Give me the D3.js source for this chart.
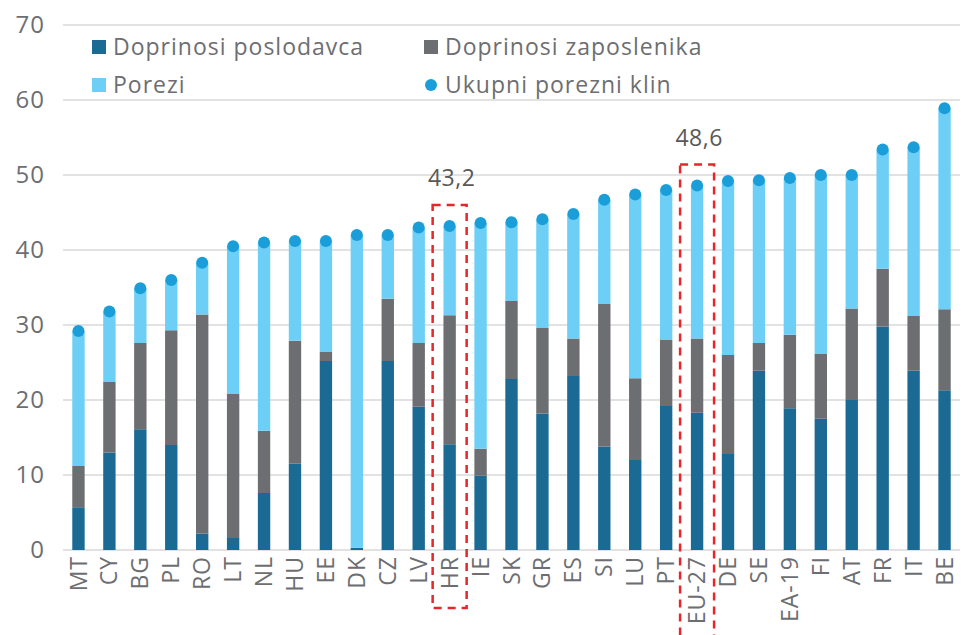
<!DOCTYPE html>
<html>
<head>
<meta charset="utf-8">
<script src="https://cdn.jsdelivr.net/npm/d3@7"></script>
<style>
	body { margin: 0; background: #fff; }
	svg { display: block; font-family: "Open Sans", sans-serif; }
</style>
</head>
<body>
<svg id="chart" width="961" height="635"></svg>
<script>
var countries = ["MT", "CY", "BG", "PL", "RO", "LT", "NL", "HU", "EE", "DK",
				"CZ", "LV", "HR", "IE", "SK", "GR", "ES", "SI", "LU", "PT",
				"EU-27", "DE", "SE", "EA-19", "FI", "AT", "FR", "IT", "BE"];
var employer = [5.7, 13.0, 16.1, 14.0, 2.2, 1.6, 7.6, 11.5, 25.2, 0.3,
				25.2, 19.1, 14.1, 9.9, 22.8, 18.2, 23.2, 13.8, 12.0, 19.2,
				18.3, 12.8, 23.9, 18.9, 17.5, 20.0, 29.8, 23.9, 21.3];
var employee = [5.5, 9.4, 11.5, 15.3, 29.2, 19.2, 8.3, 16.4, 1.2, 0.0,
				8.3, 8.5, 17.2, 3.6, 10.4, 11.4, 5.0, 19.0, 10.9, 8.8,
				9.9, 13.2, 3.7, 9.8, 8.7, 12.2, 7.7, 7.3, 10.8];
var taxes = [18.0, 9.4, 7.3, 6.7, 6.9, 19.7, 25.1, 13.3, 14.8, 41.7,
				8.5, 15.4, 11.9, 30.1, 10.5, 14.5, 16.6, 13.9, 24.5, 20.0,
				20.4, 23.2, 21.7, 20.9, 23.8, 17.8, 15.9, 22.5, 26.8];
var totalWedge = [29.2, 31.8, 34.9, 36.0, 38.3, 40.5, 41.0, 41.2, 41.2, 42.0,
				42.0, 43.0, 43.2, 43.6, 43.7, 44.1, 44.8, 46.7, 47.4, 48.0,
				48.6, 49.2, 49.3, 49.6, 50.0, 50.0, 53.4, 53.7, 58.9];
var yTicks = [0, 10, 20, 30, 40, 50, 60, 70];
var highlightCountries = ["HR", "EU-27"];
var highlightLabels = ["43,2", "48,6"];
var seriesKeys = ["employer", "employee", "taxes"];
var seriesNames = ["Doprinosi poslodavca", "Doprinosi zaposlenika", "Porezi", "Ukupni porezni klin"];

var colors = {employer: "#1a6a93", employee: "#6d6e71", taxes: "#6dcff6", total: "#1a9ed9"};
var textColor = "#6d6e71";

var svg = d3.select("#chart");
var padLeft = 63, padRight = 960, padTop = 25, padBottom = 550;
// how far below the axis each dashed box reaches
var boxDrop = [58, 110];

var data = countries.map(function(c, i) {
	return {country: c, employer: employer[i], employee: employee[i], taxes: taxes[i], total: totalWedge[i]};
});

var xScale = d3.scaleBand()
	.domain(countries)
	.range([padLeft, padRight])
	.paddingInner(0.6)
	.paddingOuter(0.3);

var yScale = d3.scaleLinear()
	.domain([0, 70])
	.range([padBottom, padTop]);

// gridlines
svg.append("g")
	.selectAll("line")
	.data(yTicks)
	.enter().append("line")
		.attr("x1", padLeft)
		.attr("x2", padRight)
		.attr("y1", function(d) { return yScale(d); })
		.attr("y2", function(d) { return yScale(d); })
		.attr("stroke", "#d9d9d9")
		.attr("stroke-width", 1.6);

// y axis labels
var yAxis = d3.axisLeft(yScale).tickValues(yTicks).tickSize(0).tickPadding(18);
svg.append("g")
	.attr("transform", "translate(" + padLeft + ",0)")
	.call(yAxis)
	.call(function(g) { g.select(".domain").remove(); })
	.selectAll("text")
		.attr("fill", textColor)
		.attr("font-size", 24)
		.attr("letter-spacing", 1)
		.attr("font-family", "Open Sans, sans-serif");

// stacked bars
var stack = d3.stack().keys(seriesKeys);
var series = stack(data);

var serie = svg.append("g").selectAll(".serie")
	.data(series)
	.enter().append("g")
		.attr("class", "serie")
		.attr("fill", function(d) { return colors[d.key]; });

serie.selectAll("rect")
	.data(function(d) { return d; })
	.enter().append("rect")
		.attr("x", function(d) { return xScale(d.data.country); })
		.attr("y", function(d) { return yScale(d[1]); })
		.attr("height", function(d) { return yScale(d[0]) - yScale(d[1]); })
		.attr("width", xScale.bandwidth());

// total dots
svg.append("g").selectAll("circle")
	.data(data)
	.enter().append("circle")
		.attr("cx", function(d) { return xScale(d.country) + xScale.bandwidth() / 2; })
		.attr("cy", function(d) { return yScale(d.total); })
		.attr("r", 6)
		.attr("fill", colors.total);

// x axis labels
var xAxis = d3.axisBottom(xScale).tickSize(0).tickPadding(0);
svg.append("g")
	.attr("transform", "translate(0," + padBottom + ")")
	.call(xAxis)
	.call(function(g) { g.select(".domain").remove(); })
	.selectAll("text")
		.attr("fill", textColor)
		.attr("font-size", 23)
		.attr("letter-spacing", 1)
		.attr("font-family", "Open Sans, sans-serif")
		.attr("text-anchor", "end")
		.attr("dy", "0.35em")
		.attr("transform", "translate(0,6) rotate(-90)")
		.attr("x", 0)
		.attr("y", 0);

// highlight boxes
var hl = svg.append("g").selectAll("g")
	.data(highlightCountries)
	.enter().append("g");

function boxTop(c) { return yScale(totalWedge[countries.indexOf(c)]) - 21; }

hl.append("rect")
	.attr("x", function(d) { return xScale(d) + xScale.bandwidth() / 2 - 17; })
	.attr("y", function(d) { return boxTop(d); })
	.attr("width", 34)
	.attr("height", function(d, i) { return padBottom + boxDrop[i] - boxTop(d); })
	.attr("fill", "none")
	.attr("stroke", "#e8262a")
	.attr("stroke-width", 2.5)
	.attr("stroke-dasharray", "8,6");

hl.append("text")
	.attr("x", function(d) { return xScale(d) + xScale.bandwidth() / 2 + 2; })
	.attr("y", function(d) { return boxTop(d) - 19; })
	.attr("text-anchor", "middle")
	.attr("fill", "#595959")
	.attr("font-size", 23)
	.attr("letter-spacing", 0.5)
	.text(function(d, i) { return highlightLabels[i]; });

// legend
var legendItems = [
	{name: seriesNames[0], color: colors.employer, x: 92, y: 47, shape: "rect"},
	{name: seriesNames[1], color: colors.employee, x: 424, y: 47, shape: "rect"},
	{name: seriesNames[2], color: colors.taxes, x: 92, y: 85, shape: "rect"},
	{name: seriesNames[3], color: colors.total, x: 424, y: 85, shape: "circle"}
];

var legend = svg.append("g").selectAll("g")
	.data(legendItems)
	.enter().append("g")
		.attr("transform", function(d) { return "translate(" + d.x + "," + d.y + ")"; });

legend.filter(function(d) { return d.shape === "rect"; })
	.append("rect")
		.attr("x", 0)
		.attr("y", -7)
		.attr("width", 14)
		.attr("height", 14)
		.attr("fill", function(d) { return d.color; });

legend.filter(function(d) { return d.shape === "circle"; })
	.append("circle")
		.attr("cx", 7)
		.attr("cy", 0)
		.attr("r", 6)
		.attr("fill", function(d) { return d.color; });

legend.append("text")
	.attr("x", 21)
	.attr("y", 0)
	.attr("dy", "0.35em")
	.attr("fill", textColor)
	.attr("font-size", 23)
	.attr("letter-spacing", 1)
	.text(function(d) { return d.name; });
</script>
</body>
</html>
